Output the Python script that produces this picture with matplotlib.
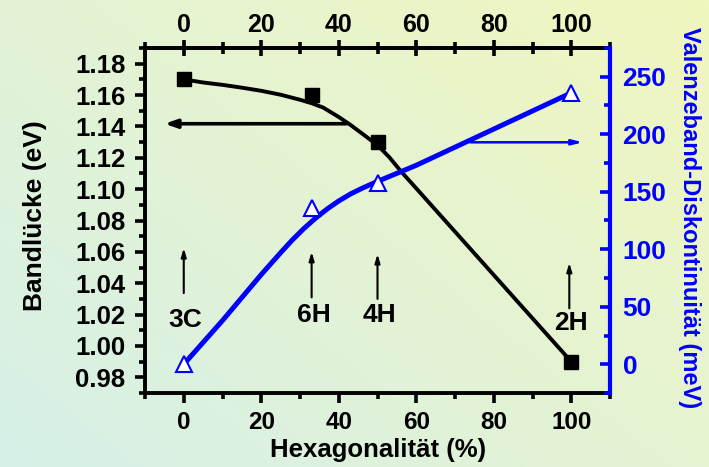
import numpy as np
import matplotlib
matplotlib.use("Agg")
import matplotlib.pyplot as plt
from matplotlib import font_manager
from matplotlib.ticker import MultipleLocator

# --- data ---
hex_pts = [0, 33, 50, 100]                  # Hexagonalitaet (%) of 3C, 6H, 4H, 2H
gap_pts = [1.17, 1.16, 1.13, 0.99]          # Bandluecke (eV)
vb_pts = [0, 136, 158, 236]                 # Valenzeband-Diskontinuitaet (meV)

# guide curves as drawn in the picture
gap_curve_x = [0, 5, 10, 15, 20, 25, 30, 33, 36, 40, 43, 46, 50, 53, 56, 60, 100]
gap_curve_y = [1.170, 1.168, 1.1665, 1.1647, 1.1627, 1.1602, 1.157, 1.1548, 1.152,
               1.146, 1.141, 1.1355, 1.128, 1.1205, 1.1115, 1.1005, 0.990]
vb_curve_x = [0, 5, 10, 15, 20, 25, 28, 31, 34, 37, 40, 43, 46, 50, 55, 60, 100]
vb_curve_y = [0, 19, 38, 58, 78, 97, 108, 118, 127, 135, 142, 148, 153, 159, 166, 173, 236]

polytypes = ["3C", "6H", "4H", "2H"]
label_x = [0, 33, 50, 99.5]

BLUE = "#0000ff"

fams = {f.name for f in font_manager.fontManager.ttflist}
narrow = "Liberation Sans Narrow" if "Liberation Sans Narrow" in fams else "Liberation Sans"
plt.rcParams["font.family"] = ["Liberation Sans", "DejaVu Sans"]
plt.rcParams["font.weight"] = "bold"

fig = plt.figure(figsize=(7.09, 4.67), dpi=100)

# background gradient
bg = fig.add_axes([0, 0, 1, 1], zorder=-10)
bg.axis("off")
H, W = 120, 180
yy, xx = np.mgrid[0:H, 0:W]
t = (xx / (W - 1)) * 0.55 + (1 - yy / (H - 1)) * 0.45
c0 = np.array([214, 240, 232]) / 255
c1 = np.array([241, 246, 190]) / 255
img = c0[None, None, :] * (1 - t[..., None]) + c1[None, None, :] * t[..., None]
bg.imshow(img, aspect="auto", extent=[0, 1, 0, 1], origin="upper")

left, right = 145 / 709, 610 / 709
bottom, top = (467 - 393) / 467, (467 - 48) / 467
ax = fig.add_axes([left, bottom, right - left, top - bottom])
ax.patch.set_alpha(0)

ax.plot(gap_curve_x, gap_curve_y, color="black", lw=2.8, solid_capstyle="round", zorder=3)
ax.plot(hex_pts, gap_pts, ls="none", marker="s", ms=9.5, color="black", zorder=4)
ax.set_xlim(-10, 110)
ax.set_ylim(0.97, 1.19)
ax.xaxis.set_major_locator(MultipleLocator(20))
ax.xaxis.set_minor_locator(MultipleLocator(10))
ax.yaxis.set_major_locator(MultipleLocator(0.02))
ax.yaxis.set_minor_locator(MultipleLocator(0.01))
ax.yaxis.set_major_formatter(matplotlib.ticker.FormatStrFormatter("%.2f"))
ax.tick_params(axis="both", which="major", direction="out", length=7, width=2.6, labelsize=18.5)
ax.tick_params(axis="both", which="minor", direction="out", length=4, width=2.6)
ax.tick_params(axis="y", pad=7)
ax.tick_params(axis="x", pad=6)
for lbl in ax.get_xticklabels():
    lbl.set_family(narrow)
    lbl.set_fontsize(17.5)
for s in ax.spines.values():
    s.set_linewidth(2.8)

# top axis
axt = ax.secondary_xaxis("top")
axt.xaxis.set_major_locator(MultipleLocator(20))
axt.xaxis.set_minor_locator(MultipleLocator(10))
axt.tick_params(which="major", direction="inout", length=12, width=2.6, labelsize=18, pad=2)
axt.tick_params(which="minor", direction="inout", length=8, width=2.6)
axt.spines["top"].set_linewidth(2.8)

# right axis
ax2 = ax.twinx()
ax2.plot(vb_curve_x, vb_curve_y, color=BLUE, lw=3.6, solid_capstyle="round", zorder=3)
ax2.plot(hex_pts, vb_pts, ls="none", marker="^", ms=12, mfc="white", mec=BLUE, mew=1.5, zorder=4)
ax2.set_ylim(-25, 275)
ax2.yaxis.set_major_locator(MultipleLocator(50))
ax2.yaxis.set_minor_locator(MultipleLocator(25))
ax2.tick_params(axis="y", which="major", direction="in", length=7, width=2.6, colors=BLUE, labelsize=19, pad=9)
ax2.tick_params(axis="y", which="minor", direction="in", length=4, width=2.6, colors=BLUE)
ax2.spines["right"].set_color(BLUE)
ax2.spines["right"].set_linewidth(3.0)
for s in ["left", "top", "bottom"]:
    ax2.spines[s].set_visible(False)

# direction arrows
ax.annotate("", xy=(-4.9, 1.1417), xytext=(42, 1.1417),
            arrowprops=dict(arrowstyle="-|>,head_length=0.7,head_width=0.25", color="black", lw=2.6,
                            shrinkA=0, shrinkB=0))
ax2.annotate("", xy=(103, 193), xytext=(74, 193),
             arrowprops=dict(arrowstyle="-|>,head_length=0.6,head_width=0.15", color=BLUE, lw=1.8,
                             shrinkA=0, shrinkB=0))

# polytype markers
arrow_lo = [1.0337, 1.031, 1.030, 1.024]
arrow_hi = [1.0624, 1.060, 1.0586, 1.053]
text_y = [1.0165, 1.0195, 1.0195, 1.0145]
for name, x, lo, hi, ty in zip(polytypes, label_x, arrow_lo, arrow_hi, text_y):
    ax.annotate("", xy=(x, hi), xytext=(x, lo),
                arrowprops=dict(arrowstyle="-|>,head_length=0.5,head_width=0.15", color="black", lw=1.5,
                                shrinkA=0, shrinkB=0))
    ax.text(x + 0.5, ty, name, ha="center", va="center", fontsize=19, fontweight="bold")

# axis labels
fig.text((184 + 573) / 2 / 709, 1 - 450 / 467, "Hexagonalität (%)", ha="center", va="center",
         fontsize=18.5, fontweight="bold", family=[narrow, "DejaVu Sans"])
fig.text(35 / 709, 1 - 216 / 467, "Bandlücke (eV)", ha="center", va="center", rotation=90,
         fontsize=19, fontweight="bold")
fig.text(690 / 709, 1 - 218 / 467, "Valenzeband-Diskontinuität (meV)", ha="center", va="center",
         rotation=-90, fontsize=17, fontweight="bold", color=BLUE)

fig.savefig("out.png", dpi=100)
